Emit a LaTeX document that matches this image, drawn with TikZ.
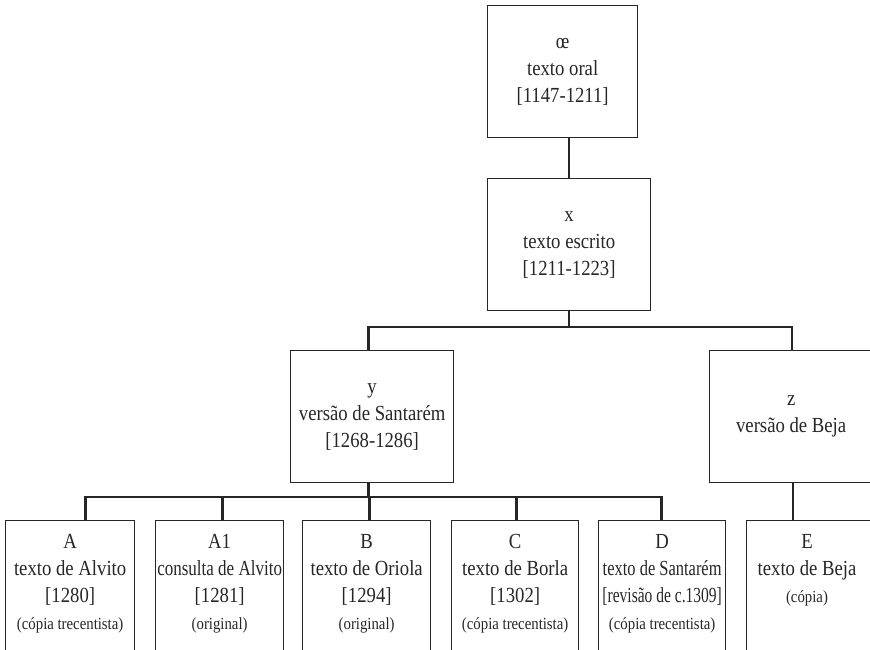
\documentclass[tikz,border=0pt]{standalone}
\usepackage{fontspec}
\usepackage{graphicx}
\setmainfont{Liberation Serif}[FakeStretch=0.87]
\newcommand{\smallline}[1]{{\fontsize{17}{22}\selectfont #1}}
\begin{document}
\begin{tikzpicture}[x=1pt,y=-1pt,
  box/.style={draw=black!85, line width=1.3pt, inner sep=0pt, anchor=north west},
  txt/.style={align=center, inner sep=0pt, text=black!85, font=\fontsize{21.5}{27}\selectfont},
  conn/.style={draw=black!85, line width=2.6pt}]
\useasboundingbox (0,0) rectangle (870,649);
\clip (0,0) rectangle (870,649);
% boxes
\node[box, minimum width=150, minimum height=132] (oe) at (487,5) {};
\node[box, minimum width=163, minimum height=132] (xb) at (487,178) {};
\node[box, minimum width=163, minimum height=132] (yb) at (290,350) {};
\node[box, minimum width=200, minimum height=132] (zb) at (709,350) {};
\node[box, minimum width=129, minimum height=200] (A) at (5,520) {};
\node[box, minimum width=128, minimum height=200] (A1) at (155,520) {};
\node[box, minimum width=128, minimum height=200] (B) at (302,520) {};
\node[box, minimum width=127, minimum height=200] (C) at (451,520) {};
\node[box, minimum width=127, minimum height=200] (D) at (598,520) {};
\node[box, minimum width=200, minimum height=200] (E) at (746,520) {};
% texts
\node[txt] (oet) at (oe.center) {œ\\texto oral\\{[1147-1211]}};
\node[txt] (xbt) at (xb.center) {x\\texto escrito\\{[1211-1223]}};
\node[txt] (ybt) at (yb.center) {y\\versão de Santarém\\{[1268-1286]}};
\node[txt] (zbt) at ([xshift=-18.5pt]zb.center) {z\\versão de Beja};
\node[txt, anchor=north] (At) at ([yshift=-14pt]A.north) {A\\texto de Alvito\\{[1280]}\\\smallline{(cópia trecentista)}};
\node[txt, anchor=north] (A1t) at ([yshift=-14pt]A1.north) {A1\\\scalebox{0.91}[1]{consulta de Alvito}\\{[1281]}\\\smallline{(original)}};
\node[txt, anchor=north] (Bt) at ([yshift=-14pt]B.north) {B\\texto de Oriola\\{[1294]}\\\smallline{(original)}};
\node[txt, anchor=north] (Ct) at ([yshift=-14pt]C.north) {C\\texto de Borla\\{[1302]}\\\smallline{(cópia trecentista)}};
\node[txt, anchor=north] (Dt) at ([yshift=-14pt]D.north) {D\\\scalebox{0.88}[1]{texto de Santarém}\\\scalebox{0.83}[1]{[revisão de c.1309]}\\\smallline{(cópia trecentista)}};
\node[txt, anchor=north] (Et) at ([xshift=61pt,yshift=-14pt]E.north west) {E\\texto de Beja\\\smallline{(cópia)}};
% connectors
\draw[conn] (oe.south -| xb.north) -- (xb.north);
\draw[conn] (xb.south) -- ++(0,17);
\draw[conn] ([xshift=-3.5pt]yb.north) -- ++(0,-23) -| ([xshift=83pt]zb.north west);
\draw[conn] ([xshift=-3.5pt]yb.south) -- ++(0,15);
\draw[conn] ([xshift=84pt]zb.south west) -- ([xshift=47pt]E.north west);
\draw[conn] ([xshift=15.5pt]A.north) -- ++(0,-23) -| ([xshift=-0.5pt]D.north);
\draw[conn] ([xshift=3pt]A1.north) -- ++(0,-23);
\draw[conn] ([xshift=3pt]B.north) -- ++(0,-23);
\draw[conn] ([xshift=1.5pt]C.north) -- ++(0,-23);
\end{tikzpicture}
\end{document}
